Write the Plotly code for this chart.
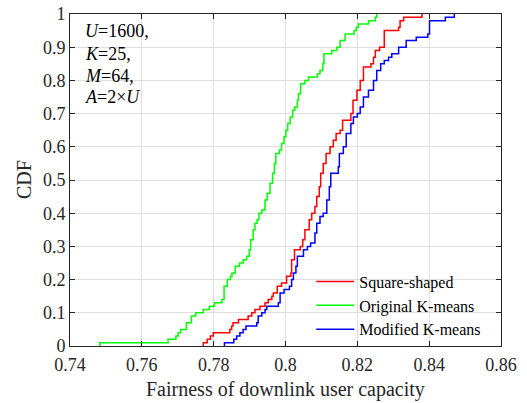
import plotly.graph_objects as go

# Step CDF breakpoints (x value, CDF level after the step)
green_x = [0.7483, 0.7483, 0.7673, 0.7695, 0.7701, 0.7708, 0.7724, 0.7738, 0.7750, 0.7771,
           0.7788, 0.7802, 0.7823, 0.7829, 0.7838, 0.7847, 0.7851, 0.7860, 0.7872, 0.7882,
           0.7892, 0.7899, 0.7903, 0.7910, 0.7915, 0.7921, 0.7926, 0.7934, 0.7943, 0.7949,
           0.7957, 0.7964, 0.7969, 0.7973, 0.7983, 0.7989, 0.7996, 0.8001, 0.8006, 0.8013,
           0.8020, 0.8026, 0.8033, 0.8036, 0.8042, 0.8054, 0.8064, 0.8089, 0.8096, 0.8104,
           0.8107, 0.8129, 0.8143, 0.8152, 0.8166, 0.8191, 0.8197, 0.8203, 0.8231, 0.8250,
           0.8254]
green_y = [0.00, 0.01, 0.02, 0.03, 0.04, 0.05, 0.07, 0.09, 0.10, 0.11,
           0.12, 0.13, 0.14, 0.18, 0.20, 0.21, 0.22, 0.24, 0.25, 0.26,
           0.27, 0.29, 0.32, 0.35, 0.37, 0.38, 0.40, 0.41, 0.44, 0.46,
           0.49, 0.52, 0.55, 0.58, 0.59, 0.61, 0.63, 0.65, 0.67, 0.69,
           0.71, 0.72, 0.74, 0.76, 0.79, 0.80, 0.81, 0.82, 0.83, 0.85,
           0.88, 0.89, 0.90, 0.92, 0.94, 0.95, 0.96, 0.97, 0.98, 0.99,
           1.00]

red_x = [0.7771, 0.7771, 0.7782, 0.7791, 0.7799, 0.7845, 0.7850, 0.7854, 0.7869, 0.7896,
         0.7906, 0.7915, 0.7929, 0.7943, 0.7952, 0.7962, 0.7966, 0.7977, 0.7989, 0.8003,
         0.8015, 0.8017, 0.8025, 0.8041, 0.8048, 0.8054, 0.8066, 0.8073, 0.8082, 0.8087,
         0.8094, 0.8098, 0.8105, 0.8113, 0.8124, 0.8133, 0.8141, 0.8152, 0.8159, 0.8182,
         0.8188, 0.8199, 0.8208, 0.8217, 0.8238, 0.8245, 0.8250, 0.8262, 0.8275, 0.8315,
         0.8319, 0.8329, 0.8380]
red_y = [0.00, 0.01, 0.02, 0.03, 0.04, 0.05, 0.06, 0.07, 0.08, 0.09,
         0.10, 0.11, 0.12, 0.13, 0.14, 0.15, 0.16, 0.18, 0.19, 0.21,
         0.22, 0.26, 0.29, 0.30, 0.32, 0.35, 0.38, 0.40, 0.42, 0.45,
         0.48, 0.52, 0.55, 0.58, 0.60, 0.62, 0.64, 0.65, 0.68, 0.70,
         0.74, 0.77, 0.80, 0.84, 0.85, 0.87, 0.89, 0.90, 0.95, 0.96,
         0.98, 0.99, 1.00]

blue_x = [0.7830, 0.7830, 0.7856, 0.7864, 0.7873, 0.7882, 0.7890, 0.7920, 0.7924, 0.7934,
          0.7943, 0.7948, 0.7980, 0.7985, 0.7996, 0.8011, 0.8017, 0.8022, 0.8029, 0.8033,
          0.8050, 0.8061, 0.8070, 0.8082, 0.8087, 0.8096, 0.8105, 0.8115, 0.8122, 0.8126,
          0.8147, 0.8150, 0.8161, 0.8169, 0.8182, 0.8189, 0.8200, 0.8208, 0.8217, 0.8231,
          0.8245, 0.8254, 0.8265, 0.8275, 0.8287, 0.8296, 0.8315, 0.8336, 0.8364, 0.8396,
          0.8401, 0.8445, 0.8470]
blue_y = [0.00, 0.01, 0.02, 0.03, 0.04, 0.05, 0.06, 0.07, 0.09, 0.10,
          0.11, 0.12, 0.13, 0.16, 0.17, 0.18, 0.20, 0.22, 0.24, 0.27,
          0.29, 0.30, 0.31, 0.34, 0.37, 0.39, 0.40, 0.44, 0.48, 0.52,
          0.54, 0.58, 0.60, 0.64, 0.67, 0.69, 0.70, 0.72, 0.75, 0.77,
          0.80, 0.83, 0.85, 0.86, 0.87, 0.88, 0.90, 0.92, 0.93, 0.94,
          0.98, 0.99, 1.00]

series_names = ["Square-shaped", "Original K-means", "Modified K-means"]
x_ticks = [0.74, 0.76, 0.78, 0.8, 0.82, 0.84, 0.86]
x_tick_labels = ["0.74", "0.76", "0.78", "0.8", "0.82", "0.84", "0.86"]
y_ticks = [0, 0.1, 0.2, 0.3, 0.4, 0.5, 0.6, 0.7, 0.8, 0.9, 1]
y_tick_labels = ["0", "0.1", "0.2", "0.3", "0.4", "0.5", "0.6", "0.7", "0.8", "0.9", "1"]
param_lines = ["<i>U</i>=1600,", "<i>K</i>=25,", "<i>M</i>=64,", "<i>A</i>=2×<i>U</i>"]
x_title = "Fairness of downlink user capacity"
y_title = "CDF"

FONT = "Liberation Serif"
AX = "#262626"

fig = go.Figure()
for xs, ys, name, col in [(red_x, red_y, series_names[0], "#ff0000"),
                          (green_x, green_y, series_names[1], "#00ff00"),
                          (blue_x, blue_y, series_names[2], "#0000ff")]:
    fig.add_trace(go.Scatter(x=xs, y=ys, mode="lines", name=name,
                             line=dict(color=col, width=1.5, shape="hv")))

axis_common = dict(showline=True, linecolor=AX, linewidth=1, mirror="ticks",
                   ticks="inside", ticklen=5, tickcolor=AX, automargin=False,
                   showgrid=True, gridcolor="#dedede", gridwidth=1, zeroline=False,
                   tickfont=dict(family=FONT, size=18, color=AX))

fig.update_xaxes(range=[0.74, 0.86], tickvals=x_ticks, ticktext=x_tick_labels,
                 ticklabelstandoff=2, **axis_common)
fig.update_yaxes(range=[0, 1], tickvals=y_ticks, ticktext=y_tick_labels,
                 **axis_common)

# axis titles
fig.add_annotation(text=x_title, x=0.5, y=-0.132, xref="paper", yref="paper",
                   xanchor="center", yanchor="middle", showarrow=False,
                   font=dict(family=FONT, size=20, color=AX))
fig.add_annotation(text=y_title, x=-0.108, y=0.501, xref="paper", yref="paper",
                   xanchor="center", yanchor="middle", showarrow=False, textangle=-90,
                   font=dict(family=FONT, size=20, color=AX))

ys_ann = [0.948, 0.881, 0.814, 0.749]
for txt, yy in zip(param_lines, ys_ann):
    fig.add_annotation(text=txt, x=0.03, y=yy, xref="paper", yref="paper",
                       xanchor="left", yanchor="middle", showarrow=False,
                       font=dict(family=FONT, size=18, color="#000000"))

fig.update_layout(
    width=527, height=403,
    margin=dict(l=70, r=26, t=14, b=57),
    paper_bgcolor="white", plot_bgcolor="white",
    font=dict(family=FONT, color=AX),
    legend=dict(x=0.5597, y=-0.002, xanchor="left", yanchor="bottom",
                bgcolor="rgba(0,0,0,0)", borderwidth=0,
                font=dict(family=FONT, size=16, color="#000000"),
                tracegroupgap=0, itemwidth=38),
    showlegend=True,
)

fig.write_html("out.html")
